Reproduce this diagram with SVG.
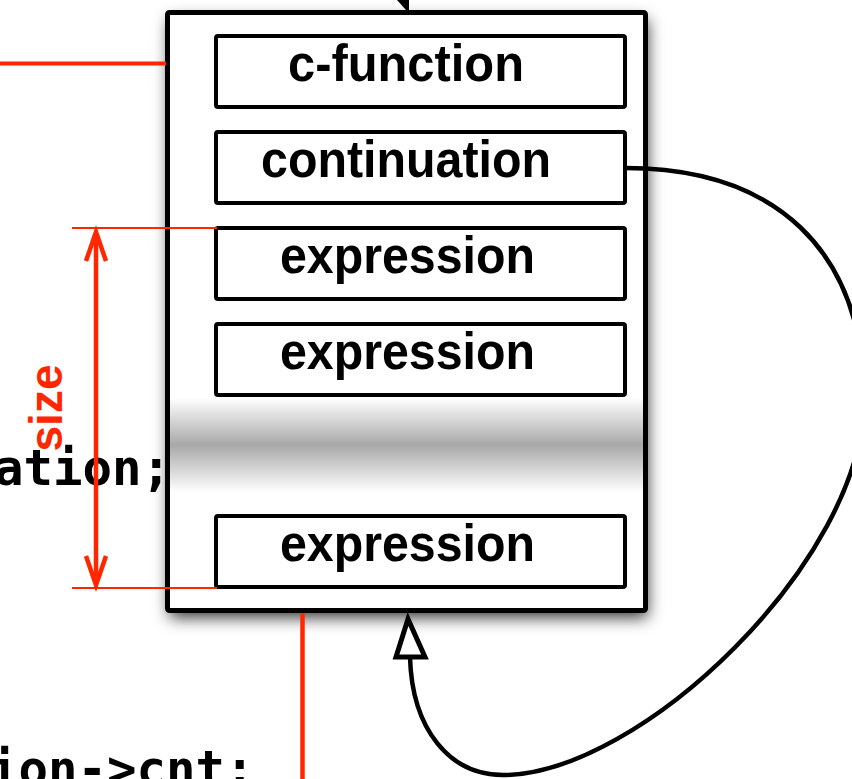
<svg xmlns="http://www.w3.org/2000/svg" width="852" height="779" viewBox="0 0 852 779">
<style>
.box{fill:#fff;stroke:#000;stroke-width:4}
.lbl{font-family:"Liberation Sans",Arial,Helvetica,sans-serif;font-weight:bold;font-size:52px;fill:#000}
.code{font-family:"DejaVu Sans Mono","Liberation Mono",monospace;font-weight:bold;font-size:49px;fill:#000}
.red{stroke:#ff2600;fill:none}
.conn{stroke:#000;stroke-width:4.5;fill:none}
</style>
<defs>
<filter id="sh" x="-15%" y="-15%" width="130%" height="130%">
<feDropShadow dx="2" dy="7" stdDeviation="8" flood-color="#000" flood-opacity="0.8"/>
</filter>
<linearGradient id="band" x1="0" y1="0" x2="0" y2="1">
<stop offset="0" stop-color="#fff"/>
<stop offset="0.5" stop-color="#a8a8a8"/>
<stop offset="1" stop-color="#fff"/>
</linearGradient>
</defs>
<rect width="852" height="779" fill="#fff"/>
<g id="code-text">
<text class="code" x="-6" y="485">ation;</text>
<text class="code" x="-11" y="786">ion-&gt;cnt;</text>
</g>
<g id="frame">
<rect x="167.5" y="12.5" width="478" height="598" rx="2" fill="#fff" filter="url(#sh)"/>
<rect x="170" y="398" width="474" height="94" fill="url(#band)"/>
<rect x="167.5" y="12.5" width="478" height="598" rx="2" fill="none" stroke="#000" stroke-width="5"/>
</g>
<g id="box-cfunction">
<rect class="box" x="216" y="36" width="409" height="71" rx="2"/>
<text class="lbl" x="288" y="81" textLength="236" lengthAdjust="spacingAndGlyphs">c-function</text>
</g>
<g id="box-continuation">
<rect class="box" x="216" y="132" width="409" height="71" rx="2"/>
<text class="lbl" x="261" y="177" textLength="290" lengthAdjust="spacingAndGlyphs">continuation</text>
</g>
<g id="box-expression1">
<rect class="box" x="216" y="228" width="409" height="71" rx="2"/>
<text class="lbl" x="280" y="273" textLength="255" lengthAdjust="spacingAndGlyphs">expression</text>
</g>
<g id="box-expression2">
<rect class="box" x="216" y="324" width="409" height="71" rx="2"/>
<text class="lbl" x="280" y="369" textLength="255" lengthAdjust="spacingAndGlyphs">expression</text>
</g>
<g id="box-expression3">
<rect class="box" x="216" y="516" width="409" height="71" rx="2"/>
<text class="lbl" x="280" y="561" textLength="255" lengthAdjust="spacingAndGlyphs">expression</text>
</g>
<g id="connectors">
<polygon points="397,0 409,0 409,10 406,10" fill="#000"/>
<path class="conn" d="M625,168 C775,168 864,250 864,400 C864,560 640,775 503,775 C450,775 412,730 410,657"/>
<polygon points="408,619 396,657 425,657" fill="#fff" stroke="#000" stroke-width="5" stroke-linejoin="miter"/>
<line class="red" x1="0" y1="63.5" x2="166" y2="63.5" stroke-width="4"/>
<line class="red" x1="302.5" y1="613" x2="302.5" y2="779" stroke-width="4.5"/>
<line class="red" x1="72" y1="228" x2="217" y2="228" stroke-width="1.8"/>
<line class="red" x1="72" y1="588" x2="217" y2="588" stroke-width="1.8"/>
<line class="red" x1="96" y1="233" x2="96" y2="583" stroke-width="4.5"/>
<polyline class="red" points="86,261 96,232 106,261" stroke-width="4.5"/>
<polyline class="red" points="86,556 96,585 106,556" stroke-width="4.5"/>
</g>
<g id="size-label">
<text transform="translate(62,408) rotate(-90)" text-anchor="middle" font-family="Liberation Sans,Arial,Helvetica,sans-serif" font-weight="bold" font-size="46" fill="#ff2600">size</text>
</g>
</svg>
